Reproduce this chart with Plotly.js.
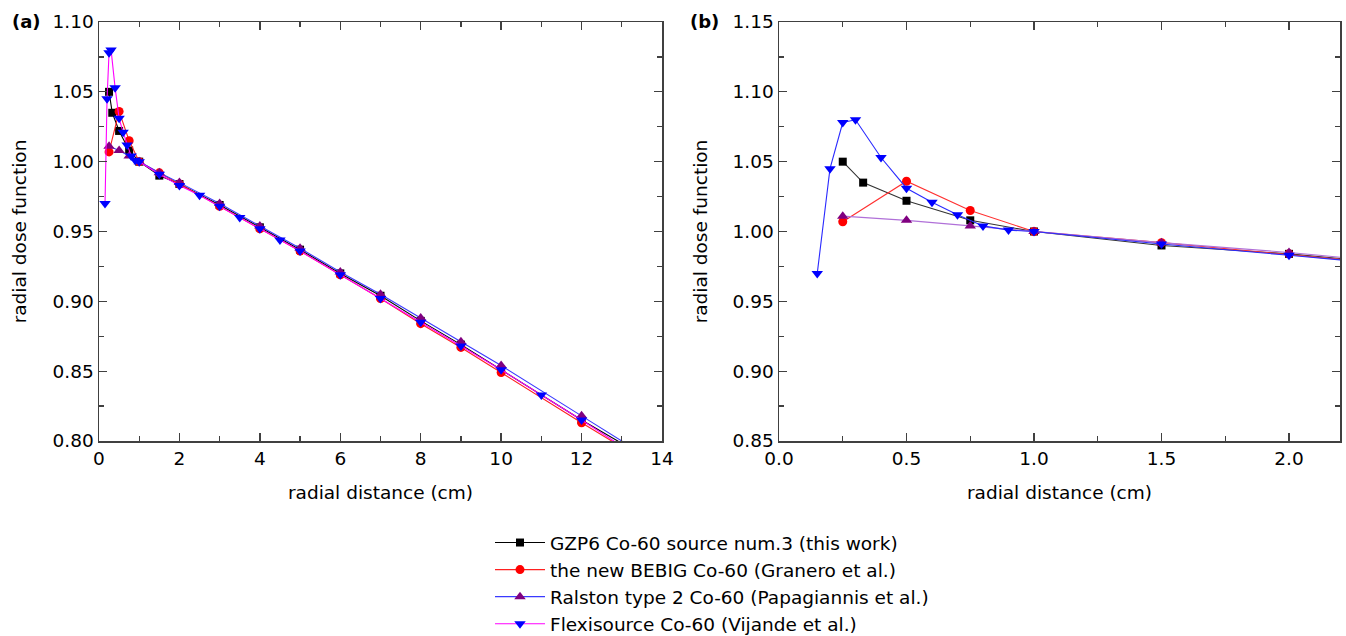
<!DOCTYPE html>
<html><head><meta charset="utf-8">
<script src="https://cdn.plot.ly/plotly-3.0.1.min.js"></script>
<style>html,body{margin:0;padding:0;background:#fff}#chart{width:1346px;height:636px}</style>
</head><body><div id="chart"></div>
<script>
// ---- data ----
const seriesNames = [
  "GZP6 Co-60 source num.3 (this work)",
  "the new BEBIG Co-60 (Granero et al.)",
  "Ralston type 2 Co-60 (Papagiannis et al.)",
  "Flexisource Co-60 (Vijande et al.)"
];
const gzpR = [0.25,0.33,0.5,0.75,1,1.5,2,3,4,5,6,7,8,9,10,12,15];
const gzpG = [1.050,1.035,1.022,1.008,1.000,0.990,0.984,0.969,0.953,0.937,0.920,0.904,0.886,0.869,0.851,0.815,0.765];
const bebigR = [0.25,0.5,0.75,1,1.5,2,3,4,5,6,7,8,9,10,12,15];
const bebigG = [1.007,1.036,1.015,1.000,0.992,0.984,0.968,0.952,0.936,0.919,0.902,0.884,0.867,0.849,0.813,0.761];
const ralstonR = [0.25,0.5,0.75,1,1.5,2,3,4,5,6,7,8,9,10,12,15];
const ralstonG = [1.011,1.008,1.004,1.000,0.992,0.985,0.970,0.954,0.938,0.921,0.905,0.888,0.871,0.854,0.818,0.764];
const flexiR = [0.15,0.2,0.25,0.3,0.4,0.5,0.6,0.7,0.8,0.9,1,1.5,2,2.5,3,3.5,4,4.5,5,6,7,8,9,10,11,12,15];
const flexiG = [0.970,1.045,1.078,1.080,1.053,1.031,1.021,1.012,1.004,1.001,1.000,0.991,0.983,0.976,0.968,0.960,0.952,0.944,0.936,0.919,0.902,0.885,0.868,0.851,0.833,0.815,0.759];

const xTitle = "radial distance (cm)";
const yTitle = "radial dose function";
const panelLabels = ["(a)", "(b)"];

// ---- styles ----
const FONT = "DejaVu Sans, Liberation Sans, Arial, sans-serif";
const W = 1346, H = 636;
const px = v => v / W, py = v => (H - v) / H;

const styleA = [
  {line:"#000000", mk:"#000000", sym:"square", size:8},
  {line:"#ff2020", mk:"#ff0000", sym:"circle", size:9},
  {line:"#3a3aff", mk:"#800080", sym:"triangle-up", size:10},
  {line:"#ff00ff", mk:"#0000ff", sym:"triangle-down", size:10}
];
const styleB = [
  {line:"#333333"}, {line:"#ff3030"}, {line:"#b070d8"}, {line:"#2a2aff"}
];
const dataR = [gzpR, bebigR, ralstonR, flexiR];
const dataG = [gzpG, bebigG, ralstonG, flexiG];

const traces = [];
for (let i = 0; i < 4; i++) {
  traces.push({
    x: dataR[i], y: dataG[i], xaxis:"x", yaxis:"y", name: seriesNames[i],
    type:"scatter", mode:"lines+markers", showlegend:true,
    line:{color:styleA[i].line, width:1.1},
    marker:{color:styleA[i].mk, symbol:styleA[i].sym, size:styleA[i].size, line:{width:0}}
  });
}
for (let i = 0; i < 4; i++) {
  traces.push({
    x: dataR[i], y: dataG[i], xaxis:"x2", yaxis:"y2", name: seriesNames[i],
    type:"scatter", mode:"lines+markers", showlegend:false,
    line:{color:styleB[i].line, width:1.1},
    marker:{color:styleA[i].mk, symbol:styleA[i].sym, size:styleA[i].size, line:{width:0}}
  });
}

const axCommon = {
  showline:true, linecolor:"#404040", linewidth:1.5, mirror:"ticks",
  ticks:"inside", ticklen:8, tickwidth:1.3, tickcolor:"#404040",
  showgrid:false, zeroline:false, tickfont:{family:FONT, size:18.5, color:"#000"}
};
function ax(o){ return Object.assign(JSON.parse(JSON.stringify(axCommon)), o); }
const titleFont = {family:FONT, size:18.5, color:"#000"};

const layout = {
  width:W, height:H, margin:{l:0,r:0,t:0,b:0, autoexpand:false}, paper_bgcolor:"#fff", plot_bgcolor:"#fff",
  showlegend:true,
  xaxis: ax({domain:[px(99), px(662)], range:[0,14], dtick:2, anchor:"y",
    minor:{ticks:"inside", ticklen:5, dtick:1, tickwidth:1.2, tickcolor:"#404040"},
    title:{text:xTitle, standoff:18, font:titleFont}}),
  yaxis: ax({domain:[py(441), py(22)], range:[0.80,1.10], dtick:0.05, tickformat:".2f", anchor:"x",
    minor:{ticks:"inside", ticklen:5, dtick:0.025, tickwidth:1.2, tickcolor:"#404040"},
    title:{text:yTitle, standoff:21, font:titleFont}}),
  xaxis2: ax({domain:[px(779), px(1340)], range:[0,2.2], dtick:0.5, tickformat:".1f", anchor:"y2",
    minor:{ticks:"inside", ticklen:5, dtick:0.25, tickwidth:1.2, tickcolor:"#404040"},
    title:{text:xTitle, standoff:18, font:titleFont}}),
  yaxis2: ax({domain:[py(441), py(22)], range:[0.85,1.15], dtick:0.05, tickformat:".2f", anchor:"x2",
    minor:{ticks:"inside", ticklen:5, dtick:0.025, tickwidth:1.2, tickcolor:"#404040"},
    title:{text:yTitle, standoff:20, font:titleFont}}),
  legend:{x:px(490), y:py(524), xanchor:"left", yanchor:"top", bgcolor:"rgba(0,0,0,0)",
    font:{family:FONT, size:18.5, color:"#000"}, itemwidth:50, tracegroupgap:0},
  annotations:[
    {text:"<b>"+panelLabels[0]+"</b>", xref:"paper", yref:"paper", x:px(10), y:py(22), xanchor:"left", yanchor:"middle", showarrow:false, font:{family:FONT, size:18, color:"#000"}},
    {text:"<b>"+panelLabels[1]+"</b>", xref:"paper", yref:"paper", x:px(688), y:py(22), xanchor:"left", yanchor:"middle", showarrow:false, font:{family:FONT, size:18, color:"#000"}}
  ]
};

Plotly.newPlot("chart", traces, layout, {displayModeBar:false, staticPlot:true});
</script>
</body></html>
